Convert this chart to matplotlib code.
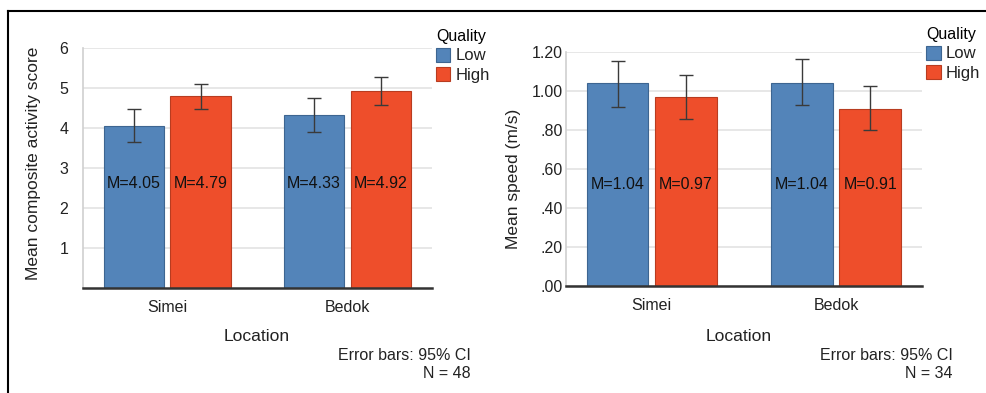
import matplotlib
matplotlib.use("Agg")
import matplotlib.pyplot as plt
from matplotlib.lines import Line2D
import numpy as np

plt.rcParams['font.family'] = ['Liberation Sans', 'DejaVu Sans']

locations = ["Simei", "Bedok"]
qualities = ["Low", "High"]

# Left panel: composite activity score
act_low = [4.05, 4.33]
act_high = [4.79, 4.92]
act_low_ci_lo = [3.65, 3.90]
act_low_ci_hi = [4.46, 4.75]
act_high_ci_lo = [4.475, 4.575]
act_high_ci_hi = [5.10, 5.27]
act_ticks = [1, 2, 3, 4, 5, 6]
act_ticklabels = ["1", "2", "3", "4", "5", "6"]

# Right panel: speed
spd_low = [1.04, 1.04]
spd_high = [0.97, 0.91]
spd_low_ci_lo = [0.919, 0.927]
spd_low_ci_hi = [1.155, 1.164]
spd_high_ci_lo = [0.856, 0.798]
spd_high_ci_hi = [1.082, 1.024]
spd_ticks = [0.0, 0.2, 0.4, 0.6, 0.8, 1.0, 1.2]
spd_ticklabels = [".00", ".20", ".40", ".60", ".80", "1.00", "1.20"]

BLUE = "#5384b9"
RED = "#ee4e2b"
BLUE_EDGE = "#3d6591"
RED_EDGE = "#b83c20"

W, H = 987, 393
fig = plt.figure(figsize=(W / 100, H / 100), dpi=100)

def px_axes(x0, x1, ytop, ybot):
    return fig.add_axes([x0 / W, 1 - ybot / H, (x1 - x0) / W, (ybot - ytop) / H])

def panel(ax, low, high, llo, lhi, hlo, hhi, ymax, ticks, ticklabels, fmt,
          ylabel, ytickpad, xlab_pos, ylab_pos, xlim, leg_px):
    x = np.arange(len(locations))
    off, bw = 0.185, 0.335
    series = [(low, llo, lhi, BLUE, BLUE_EDGE, qualities[0], -off),
              (high, hlo, hhi, RED, RED_EDGE, qualities[1], off)]
    handles = []
    for vals, lo, hi, col, ec, lab, o in series:
        vals = np.array(vals)
        yerr = [vals - np.array(lo), np.array(hi) - vals]
        b = ax.bar(x + o, vals, bw, color=col, edgecolor=ec, linewidth=0.8,
                   label=lab, zorder=2)
        ax.errorbar(x + o, vals, yerr=yerr, fmt='none', ecolor='#3a3a3a',
                    elinewidth=1.0, capsize=5, capthick=1.0, zorder=3)
        for xi, v in zip(x + o, vals):
            ax.text(xi, 0.435 * ymax, fmt.format(v), ha='center', va='center',
                    fontsize=11.5, color='#111111', zorder=4)
        handles.append(b)
    ax.set_xlim(*xlim)
    ax.set_ylim(0, ymax)
    ax.set_yticks(ticks)
    ax.set_yticklabels(ticklabels)
    ax.set_xticks(x)
    ax.set_xticklabels(locations)
    ax.tick_params(axis='both', length=0, labelsize=11.5, colors='#222222')
    ax.tick_params(axis='y', pad=ytickpad)
    ax.tick_params(axis='x', pad=9)
    ax.yaxis.grid(True, color='#e3e3e3', linewidth=1.2, zorder=0)
    ax.set_axisbelow(True)
    for s in ['top', 'right']:
        ax.spines[s].set_visible(False)
    ax.spines['left'].set_color('#cfcfcf')
    ax.spines['left'].set_linewidth(1.2)
    ax.spines['bottom'].set_color('#333333')
    ax.spines['bottom'].set_linewidth(1.8)
    ax.spines['bottom'].set_zorder(5)
    ax.set_xlabel("Location", fontsize=12.6, color='#222222', va='center')
    ax.xaxis.set_label_coords(*xlab_pos)
    ax.set_ylabel(ylabel, fontsize=12.5, color='#222222', va='center', ha='center')
    ax.yaxis.set_label_coords(*ylab_pos)
    leg = ax.legend(handles=handles, title="Quality", loc='upper left',
                    bbox_to_anchor=(leg_px[0] / W, 1 - leg_px[1] / H),
                    bbox_transform=fig.transFigure, frameon=False, fontsize=12,
                    title_fontsize=11.5, alignment='left', handlelength=0.85,
                    handleheight=0.92, handletextpad=0.3, labelspacing=0.22,
                    borderpad=0, borderaxespad=0)
    for t in leg.get_texts():
        t.set_color('#222222')
    return ax

ax1 = px_axes(83, 432, 47.7, 287.7)
panel(ax1, act_low, act_high, act_low_ci_lo, act_low_ci_hi, act_high_ci_lo,
      act_high_ci_hi, 6, act_ticks, act_ticklabels, "M={:.2f}",
      "Mean composite activity score", 10.5, (0.498, -0.204), (-0.143, 0.52),
      (-0.468, 1.47), (436, 29))

ax2 = px_axes(566, 922.3, 52, 286)
panel(ax2, spd_low, spd_high, spd_low_ci_lo, spd_low_ci_hi, spd_high_ci_lo,
      spd_high_ci_hi, 1.2, spd_ticks, spd_ticklabels, "M={:.2f}",
      "Mean speed (m/s)", 2.5, (0.486, -0.217), (-0.148, 0.457),
      (-0.465, 1.468), (926.5, 27))

for xr, n in [(470.7, "N = 48"), (952.7, "N = 34")]:
    fig.text(xr / W, 1 - 355 / H, "Error bars: 95% CI", ha='right', va='center',
             fontsize=11.5, color='#222222')
    fig.text(xr / W, 1 - 373.3 / H, n, ha='right', va='center',
             fontsize=11.5, color='#222222')

# outer frame
fig.add_artist(Line2D([8 / W, 1.0], [1 - 11 / H, 1 - 11 / H], color='black',
                      linewidth=1.5, transform=fig.transFigure))
fig.add_artist(Line2D([8 / W, 8 / W], [0, 1 - 11 / H], color='black',
                      linewidth=1.5, transform=fig.transFigure))

fig.savefig("out.png", dpi=100)
